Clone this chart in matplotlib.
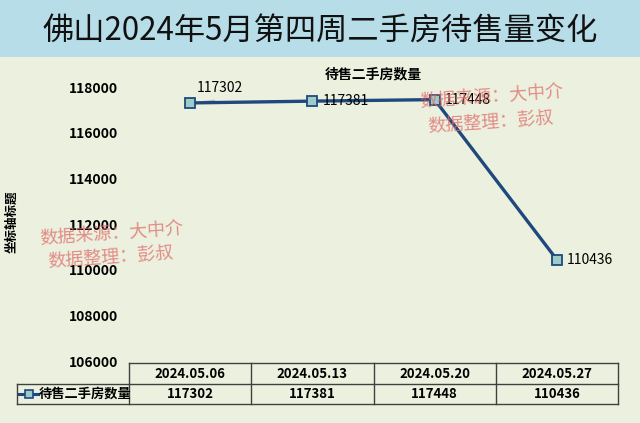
import matplotlib
matplotlib.use("Agg")
import matplotlib.pyplot as plt
from matplotlib.patches import Rectangle
import matplotlib.transforms as mtransforms

plt.rcParams['font.family'] = ['Noto Sans CJK SC', 'DejaVu Sans']

dates = ["2024.05.06", "2024.05.13", "2024.05.20", "2024.05.27"]
counts = [117302, 117381, 117448, 110436]
series_name = "待售二手房数量"
yticks = [106000, 108000, 110000, 112000, 114000, 116000, 118000]

W, H = 640, 423
bg = '#ebf1de'
line_c = '#1f497d'
marker_c = '#9dcbca'
mark_c = '#e06a6a'


def fy(py):
    return 1 - py / H


fig = plt.figure(figsize=(6.4, 4.23), dpi=100, facecolor=bg)

# title band
fig.patches.append(Rectangle((0, fy(57)), 1, 57 / H, transform=fig.transFigure,
                             facecolor='#b7dde8', edgecolor='none', zorder=0))
fig.text(0.5, fy(31), "佛山2024年5月第四周二手房待售量变化", ha='center', va='center',
         fontsize=22.5, fontweight='medium', color='#111111')

ax = fig.add_axes([129 / W, fy(361), 489 / W, (361 - 87) / H])
ax.set_facecolor(bg)
for s in ax.spines.values():
    s.set_visible(False)

x = list(range(len(dates)))
ax.plot(x, counts, color=line_c, lw=2.4, marker='s', ms=6.5, mfc=marker_c, mec=line_c,
        mew=1.3, clip_on=False, zorder=3)
ax.set_xlim(-0.5, 3.5)
ax.set_ylim(106000, 118000)
ax.set_yticks(yticks)
ax.set_yticklabels([str(v) for v in yticks], fontsize=10, fontweight='bold')
ax.tick_params(axis='y', length=0, pad=8)
ax.set_xticks([])

ax.set_title(series_name, fontsize=10, fontweight='bold', pad=6)
fig.text(12 / W, fy(222), "坐标轴标题", rotation=90, ha='center', va='center',
         fontsize=9, fontweight='bold')

# data labels
ax.annotate(str(counts[0]), (x[0], counts[0]), xytext=(30, 15), textcoords='offset pixels',
            ha='center', va='center', fontsize=10, fontweight='medium')
ax.plot([x[0] + 0.08, x[0] + 0.2], [117350, 117420], color='#bbbbbb', lw=0.8)
for i in range(1, len(counts)):
    ax.annotate(str(counts[i]), (x[i], counts[i]), xytext=(10, 0), textcoords='offset pixels',
                ha='left', va='center', fontsize=10, fontweight='medium', zorder=4)

# watermarks
for (cx, cy1, cy2) in [(492, 98, 123), (112, 235, 258)]:
    fig.text(cx / W, fy(cy1), "数据来源：大中介", ha='center', va='center', fontsize=13,
             color=mark_c, alpha=0.75, rotation=4)
    fig.text((cx - 1) / W, fy(cy2), "数据整理：彭叔", ha='center', va='center', fontsize=13,
             color=mark_c, alpha=0.75, rotation=4)

# data table under the axis
tr = mtransforms.blended_transform_factory(ax.transData, fig.transFigure)
edge = '#404040'
y_top, y_mid, y_bot = fy(363), fy(384), fy(404)
x_left = -0.5 - 112 / 122
ax.plot([-0.5, 3.5], [y_top, y_top], transform=tr, color=edge, lw=1, clip_on=False)
ax.plot([x_left, 3.5], [y_mid, y_mid], transform=tr, color=edge, lw=1, clip_on=False)
ax.plot([x_left, 3.5], [y_bot, y_bot], transform=tr, color=edge, lw=1, clip_on=False)
for xv in [-0.5, 0.5, 1.5, 2.5, 3.5]:
    ax.plot([xv, xv], [y_top, y_bot], transform=tr, color=edge, lw=1, clip_on=False)
ax.plot([x_left, x_left], [y_mid, y_bot], transform=tr, color=edge, lw=1, clip_on=False)
for i, d in enumerate(dates):
    ax.text(i, (y_top + y_mid) / 2, d, transform=tr, ha='center', va='center',
            fontsize=9.5, fontweight='bold')
    ax.text(i, (y_mid + y_bot) / 2, str(counts[i]), transform=tr, ha='center', va='center',
            fontsize=9.5, fontweight='bold')

# legend key in table
fig.lines.append(plt.Line2D([19 / W, 38 / W], [fy(394), fy(394)], transform=fig.transFigure,
                            color=line_c, lw=2.2, zorder=3))
fig.lines.append(plt.Line2D([28.5 / W], [fy(394)], transform=fig.transFigure,
                            color=line_c, lw=0, marker='s', ms=5.5, mfc=marker_c, mec=line_c,
                            mew=1.2, zorder=4))
fig.text(39 / W, fy(394), series_name, ha='left', va='center', fontsize=9.5, fontweight='bold')

fig.savefig("out.png", dpi=100, facecolor=bg)
